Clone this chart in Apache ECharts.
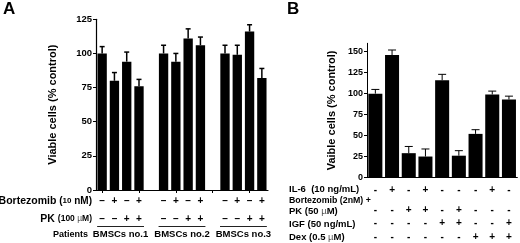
<!DOCTYPE html>
<html><head><meta charset="utf-8">
<script src="https://cdn.jsdelivr.net/npm/echarts@6/dist/echarts.min.js"></script>
<style>html,body{margin:0;padding:0;background:#fff}#c{width:520px;height:243px}</style>
</head><body><div id="c"></div>
<script>
// ---- Panel A data ----
var groupsA = ['BMSCs no.1', 'BMSCs no.2', 'BMSCs no.3'];
var bortezomibA = ['\u2013', '+', '\u2013', '+'];
var pkA = ['\u2013', '\u2013', '+', '+'];
var valuesA1 = [100, 80, 94, 76];
var valuesA2 = [100, 94, 111, 106];
var valuesA3 = [100, 99, 116, 82];
var errA1 = [5, 6, 7, 5];
var errA2 = [6, 6, 7, 6];
var errA3 = [6, 7, 5, 7];
var ticksA = [0, 25, 50, 75, 100, 125];

// ---- Panel B data ----
var valuesB = [100, 146, 29, 25, 116, 26, 52, 99, 93];
var errB = [5, 6, 8, 9, 7, 6, 5, 4, 4];
var il6B = ['-', '+', '-', '+', '-', '-', '-', '+', '-'];
var bortPkB = ['-', '-', '+', '+', '-', '+', '-', '-', '-'];
var igfB = ['-', '-', '-', '-', '+', '+', '-', '-', '+'];
var dexB = ['-', '-', '-', '-', '-', '-', '+', '+', '+'];
var ticksB = [0, 25, 50, 75, 100, 125, 150];

var FONT = '"Liberation Sans", Arial, Helvetica, sans-serif';

// build slot layout for A: 4 bars, 1 gap, ...
var valsA = [valuesA1, valuesA2, valuesA3], errsA = [errA1, errA2, errA3];
var slotsA = [], barDataA = [], errDataA = [];
for (var g = 0; g < 3; g++) {
  for (var k = 0; k < 4; k++) {
    var idx = slotsA.length;
    slotsA.push('s' + idx);
    barDataA.push(valsA[g][k]);
    errDataA.push([idx, valsA[g][k], errsA[g][k]]);
  }
  if (g < 2) { slotsA.push('gap' + g); barDataA.push('-'); }
}
var slotsB = valuesB.map(function (v, i) { return 'b' + i; });
var errDataB = valuesB.map(function (v, i) { return [i, v, errB[i]]; });

function errRender(capW, lw) {
  return function (params, api) {
    var x = api.value(0), v = api.value(1), e = api.value(2);
    var base = api.coord([x, v]);
    var top = api.coord([x, v + e]);
    var st = { stroke: '#000', lineWidth: lw };
    return { type: 'group', children: [
      { type: 'line', shape: { x1: base[0], y1: base[1], x2: base[0], y2: top[1] }, style: st },
      { type: 'line', shape: { x1: base[0] - capW / 2, y1: top[1], x2: base[0] + capW / 2, y2: top[1] }, style: st }
    ]};
  };
}

var chart = echarts.init(document.getElementById('c'), null, { renderer: 'canvas' });
chart.setOption({
  animation: false,
  backgroundColor: '#fff',
  grid: [
    { left: 96, top: 19.3, width: 172, bottom: 53 },
    { left: 367, top: 43.3, width: 150.3, bottom: 65.5 }
  ],
  xAxis: [
    { type: 'category', gridIndex: 0, data: slotsA, boundaryGap: true,
      axisLine: { lineStyle: { color: '#000', width: 1.2 } },
      axisTick: { show: true, alignWithLabel: true, length: 3, lineStyle: { color: '#000' } },
      axisLabel: { show: false } },
    { type: 'category', gridIndex: 1, data: slotsB, boundaryGap: true,
      axisLine: { lineStyle: { color: '#000', width: 1.2 } },
      axisTick: { show: false }, axisLabel: { show: false } }
  ],
  yAxis: [
    { type: 'value', gridIndex: 0, min: 0, max: 125, interval: 25,
      name: 'Viable cells (% control)', nameLocation: 'middle', nameGap: 38,
      nameTextStyle: { color: '#000', fontFamily: FONT, fontWeight: 'bold', fontSize: 11 },
      splitLine: { show: false },
      axisLine: { show: true, lineStyle: { color: '#000', width: 1.2 } },
      axisTick: { show: true, length: 3, lineStyle: { color: '#000' }, customValues: ticksA },
      axisLabel: { margin: 4, customValues: ticksA, color: '#000', fontFamily: FONT, fontWeight: 'bold', fontSize: 9.5 } },
    { type: 'value', gridIndex: 1, min: 0, max: 160, interval: 25,
      name: 'Vaible cells (% control)', nameLocation: 'middle', nameGap: 30,
      nameTextStyle: { color: '#000', fontFamily: FONT, fontWeight: 'bold', fontSize: 11 },
      splitLine: { show: false },
      axisLine: { show: true, lineStyle: { color: '#000', width: 1 } },
      axisTick: { show: true, length: 3, lineStyle: { color: '#000' }, customValues: ticksB },
      axisLabel: { margin: 4, customValues: ticksB, color: '#000', fontFamily: FONT, fontWeight: 'bold', fontSize: 9 } }
  ],
  series: [
    { type: 'bar', xAxisIndex: 0, yAxisIndex: 0, data: barDataA, barCategoryGap: '24%',
      itemStyle: { color: '#000' } },
    { type: 'custom', xAxisIndex: 0, yAxisIndex: 0, data: errDataA, renderItem: errRender(5, 1.5), z: 5 },
    { type: 'bar', xAxisIndex: 1, yAxisIndex: 1, data: valuesB, barCategoryGap: '16%',
      itemStyle: { color: '#000' } },
    { type: 'custom', xAxisIndex: 1, yAxisIndex: 1, data: errDataB, renderItem: errRender(8, 1), z: 5 }
  ]
});

// ---- table texts positioned via axis scales ----
var gfx = [];
function txt(x, y, text, opt) {
  opt = opt || {};
  gfx.push({ type: 'text', x: x, y: y, style: {
    text: text, fill: '#000', font: (opt.weight || 'bold') + ' ' + (opt.size || 10) + 'px ' + FONT,
    align: opt.align || 'center', verticalAlign: 'middle' }, z: 10 });
}
function px(axis, i) { return chart.convertToPixel({ xAxisIndex: axis }, i); }

gfx.push({ type: 'text', x: 3, y: 9, style: { text: 'A', fill: '#000', font: 'bold 17px ' + FONT, verticalAlign: 'middle' } });
gfx.push({ type: 'text', x: 287, y: 9, style: { text: 'B', fill: '#000', font: 'bold 17px ' + FONT, verticalAlign: 'middle' } });

// Panel A rows
gfx.push({ type: 'text', x: 92, y: 201, style: { text: '{a|Bortezomib }{b|(}{c|10}{b| nM)}', align: 'right', verticalAlign: 'middle',
  rich: { a: { font: 'bold 10.5px ' + FONT, fill: '#000' }, b: { font: 'bold 10px ' + FONT, fill: '#000' }, c: { font: 'bold 8px ' + FONT, fill: '#000' } } } });
gfx.push({ type: 'text', x: 92, y: 219, style: { text: '{a|PK }{c|(100 }{d|\u00b5}{c|M)}', align: 'right', verticalAlign: 'middle',
  rich: { a: { font: 'bold 10.5px ' + FONT, fill: '#000' }, c: { font: 'bold 8.5px ' + FONT, fill: '#000' }, d: { font: 'normal 8.5px ' + FONT, fill: '#555' } } } });
txt(88, 235, 'Patients', { align: 'right', size: 9 });
for (var g2 = 0; g2 < 3; g2++) {
  var start = g2 * 5;
  for (var k2 = 0; k2 < 4; k2++) {
    var x = px(0, start + k2);
    txt(x, 201, bortezomibA[k2], { size: 10 });
    txt(x, 219, pkA[k2], { size: 10 });
  }
  var x0 = px(0, start) - 5, x1 = px(0, start + 3) + 5;
  gfx.push({ type: 'line', shape: { x1: x0, y1: 226.5, x2: x1, y2: 226.5 }, style: { stroke: '#222', lineWidth: 1 }, z: 10 });
  txt((x0 + x1) / 2, 234.5, groupsA[g2], { size: 9.5 });
}

// Panel B rows
var lblX = 289;
gfx.push({ type: 'text', x: lblX, y: 189.5, style: { text: 'IL-6  (10 ng/mL)', fill: '#000', font: 'bold 9.5px ' + FONT, verticalAlign: 'middle' } });
gfx.push({ type: 'text', x: lblX, y: 201, style: { text: 'Bortezomib (2nM) +', fill: '#000', font: 'bold 8.8px ' + FONT, verticalAlign: 'middle' } });
gfx.push({ type: 'text', x: lblX, y: 211, style: { text: '{a|PK (50 }{d|\u00b5}{a|M)}', verticalAlign: 'middle',
  rich: { a: { font: 'bold 9.5px ' + FONT, fill: '#000' }, d: { font: 'normal 9.5px ' + FONT, fill: '#555' } } } });
gfx.push({ type: 'text', x: lblX, y: 224, style: { text: 'IGF (50 ng/mL)', fill: '#000', font: 'bold 9.5px ' + FONT, verticalAlign: 'middle' } });
gfx.push({ type: 'text', x: lblX, y: 237.5, style: { text: '{a|Dex (0.5 }{d|\u00b5}{a|M)}', verticalAlign: 'middle',
  rich: { a: { font: 'bold 9.5px ' + FONT, fill: '#000' }, d: { font: 'normal 9.5px ' + FONT, fill: '#555' } } } });
var rowsB = [[il6B, 190.5], [bortPkB, 210], [igfB, 223.5], [dexB, 237.5]];
for (var i = 0; i < valuesB.length; i++) {
  var xb = px(1, i);
  rowsB.forEach(function (r) { txt(xb, r[1], r[0][i], { size: 10 }); });
}
chart.setOption({ graphic: gfx });
</script></body></html>
